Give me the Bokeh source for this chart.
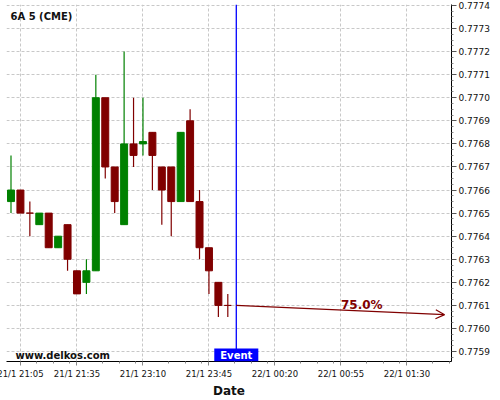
from bokeh.plotting import figure
from bokeh.models import (Range1d, FixedTicker, Label, Arrow, OpenHead, Span,
                          ColumnDataSource, PrintfTickFormatter)
from bokeh.embed import file_html
from bokeh.resources import INLINE

# ---- data (5-minute candles, 6A) ----
bar_index = list(range(24))
opens = [0.77655, 0.7766, 0.7765, 0.77645, 0.7765, 0.77635, 0.77645, 0.77625,
         0.7762, 0.77625, 0.7770, 0.7767, 0.77645, 0.7768, 0.7768, 0.77685,
         0.7767, 0.7767, 0.77655, 0.7769, 0.77655, 0.77635, 0.7762, 0.7761]
highs = [0.77675, 0.7766, 0.77655, 0.7765, 0.7765, 0.7764, 0.77645, 0.77625,
         0.7763, 0.7771, 0.7770, 0.7767, 0.7772, 0.7770, 0.7770, 0.77685,
         0.7767, 0.7767, 0.77685, 0.77695, 0.7766, 0.77635, 0.7762, 0.77615]
lows = [0.7765, 0.7765, 0.7764, 0.77645, 0.77635, 0.77635, 0.77625, 0.77615,
        0.77615, 0.77625, 0.77665, 0.7765, 0.77645, 0.7767, 0.77675, 0.7766,
        0.77645, 0.7764, 0.77655, 0.77655, 0.7763, 0.77615, 0.77605, 0.77605]
closes = [0.7766, 0.7765, 0.7765, 0.7765, 0.77635, 0.7764, 0.7763, 0.77615,
          0.77625, 0.7770, 0.7767, 0.77655, 0.7768, 0.77675, 0.77681, 0.77675,
          0.7766, 0.77655, 0.77685, 0.77655, 0.77635, 0.77625, 0.7761, 0.7761]

tick_index = [1, 7, 14, 21, 28, 35, 42]
tick_labels = ["21/1 21:05", "21/1 21:35", "21/1 23:10", "21/1 23:45",
               "22/1 00:20", "22/1 00:55", "22/1 01:30"]
price_ticks = [0.7759, 0.7760, 0.7761, 0.7762, 0.7763, 0.7764, 0.7765, 0.7766,
               0.7767, 0.7768, 0.7769, 0.7770, 0.7771, 0.7772, 0.7773, 0.7774]

event_x = 23.9
forecast_start = 0.77610
forecast_end_x = 46.0
forecast_end = 0.77606
forecast_text = "75.0%"
forecast_label_x = 35.0
forecast_label_y = 0.776103

UP = "#008000"
DOWN = "#800000"

colors = [UP if c > o else DOWN for o, c in zip(opens, closes)]
src = ColumnDataSource(dict(
    x=bar_index, o=opens, h=highs, l=lows, c=closes,
    top=[max(o, c) for o, c in zip(opens, closes)],
    bottom=[min(o, c) for o, c in zip(opens, closes)],
    color=colors))

p = figure(width=508, height=400,
           x_range=Range1d(-0.477, 46.73), y_range=Range1d(0.775857, 0.777404),
           y_axis_location="right", toolbar_location=None, output_backend="svg",
           min_border_left=14, min_border_top=4, min_border_right=49,
           min_border_bottom=36, outline_line_color=None,
           background_fill_color="white", border_fill_color="white",
           styles={"margin-left": "-8px"})

# grids
p.xgrid.ticker = FixedTicker(ticks=tick_index)
p.ygrid.ticker = FixedTicker(ticks=price_ticks)
for g in (p.xgrid, p.ygrid):
    g.grid_line_color = "#c8c8c8"
    g.grid_line_dash = "3 2"
    g.grid_line_width = 1

# x axis
minor_x = [1 + 1.75 * k for k in range(0, 27) if (k % 4) != 0]
p.xaxis.ticker = FixedTicker(ticks=tick_index, minor_ticks=minor_x)
p.xaxis.major_label_overrides = {t: s for t, s in zip(tick_index, tick_labels)}
p.xaxis.axis_label = "Date"
p.xaxis.axis_label_text_font = "DejaVu Sans"
p.xaxis.axis_label_text_font_style = "bold"
p.xaxis.axis_label_text_font_size = "12px"
p.xaxis.axis_label_text_color = "#111111"
p.xaxis.axis_label_standoff = 2
p.xaxis.major_label_text_font = "DejaVu Sans"
p.xaxis.major_label_text_font_size = "8.5px"
p.xaxis.major_label_text_color = "#111111"
p.xaxis.major_label_standoff = 3
p.xaxis.major_tick_out = 4
p.xaxis.major_tick_in = 0
p.xaxis.minor_tick_out = 2
p.xaxis.minor_tick_in = 0
p.xaxis.axis_line_color = "black"
p.xaxis.major_tick_line_color = "#888888"
p.xaxis.minor_tick_line_color = "#888888"

# y axis (right)
minor_y = [0.7759 + 0.000025 * k for k in range(-1, 62) if k % 4 != 0]
p.yaxis.ticker = FixedTicker(ticks=price_ticks, minor_ticks=minor_y)
p.yaxis.formatter = PrintfTickFormatter(format="%.4f")
p.yaxis.major_label_text_font = "DejaVu Sans"
p.yaxis.major_label_text_font_size = "9px"
p.yaxis.major_label_text_color = "#111111"
p.yaxis.major_label_standoff = 2
p.yaxis.major_tick_out = 5
p.yaxis.major_tick_in = 0
p.yaxis.minor_tick_out = 2
p.yaxis.minor_tick_in = 0
p.yaxis.axis_line_color = "black"
p.yaxis.major_tick_line_color = "#555555"
p.yaxis.minor_tick_line_color = "#888888"

# candles
p.segment(x0="x", y0="h", x1="x", y1="l", source=src, line_color="color",
          line_width=1.2)
p.vbar(x="x", top="top", bottom="bottom", width=0.74, source=src,
       fill_color="color", line_color="color", line_width=1)

# event line
p.add_layout(Span(location=event_x, dimension="height", line_color="blue",
                  line_width=1.3))

# forecast arrow
p.add_layout(Arrow(end=OpenHead(size=9, line_color=DOWN, line_width=1.2),
                   x_start=event_x, y_start=forecast_start,
                   x_end=forecast_end_x, y_end=forecast_end,
                   line_color=DOWN, line_width=1.4))
p.add_layout(Label(x=forecast_label_x, y=forecast_label_y, text=forecast_text,
                   text_font="DejaVu Sans", text_font_style="bold",
                   text_font_size="12px", text_color=DOWN,
                   text_baseline="alphabetic", text_align="left"))

# texts
p.add_layout(Label(x=4, y=351, x_units="screen", y_units="screen",
                   text="6A 5 (CME)", text_font="DejaVu Sans",
                   text_font_style="bold", text_font_size="10px",
                   text_color="#111111", text_baseline="top"))
p.add_layout(Label(x=9, y=6, x_units="screen", y_units="screen",
                   text="www.delkos.com", text_font="DejaVu Sans",
                   text_font_style="bold", text_font_size="10px",
                   text_color="#111111", text_baseline="alphabetic"))
p.add_layout(Label(x=event_x, y=0, y_units="screen", text="Event",
                   text_font="DejaVu Sans", text_font_style="bold",
                   text_font_size="10px", text_color="white",
                   text_align="center", text_baseline="bottom",
                   background_fill_color="blue", padding=(6, 1)))

open("out.html", "w").write(file_html(p, INLINE))
